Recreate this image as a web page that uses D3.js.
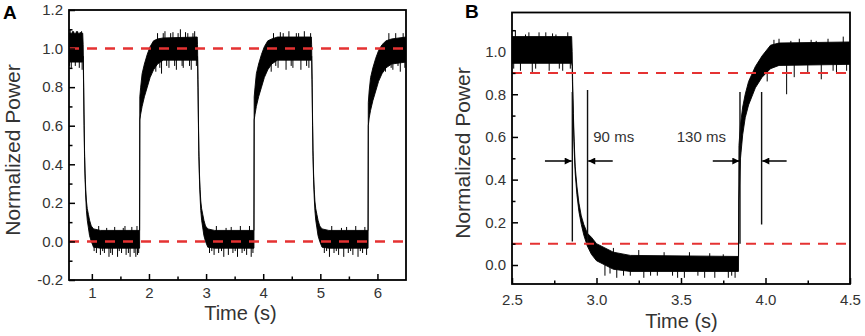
<!DOCTYPE html>
<html>
<head>
<meta charset="utf-8">
<script src="https://cdn.jsdelivr.net/npm/d3@7"></script>
<style>
body { margin: 0; background: #fff; }
svg { display: block; font-family: 'Liberation Sans', Arial, sans-serif; }
</style>
</head>
<body>
<div id="graph"></div>
<script>
// panel A trace: [time, low edge of noise band, high edge]
var bandA = [
  [0.600, 0.93, 1.08], [0.840, 0.93, 1.08], [0.848, 0.96, 1.02],
  [0.856, 0.80, 0.84], [0.864, 0.60, 0.64], [0.872, 0.44, 0.47], [0.882, 0.32, 0.35],
  [0.893, 0.23, 0.27], [0.905, 0.16, 0.21], [0.920, 0.11, 0.17], [0.940, 0.07, 0.14],
  [0.960, 0.03, 0.11], [0.990, 0.00, 0.08], [1.030, -0.03, 0.065], [1.150, -0.035, 0.057],
  [1.836, -0.035, 0.057],
  [1.840, 0.63, 0.75], [1.855, 0.66, 0.80], [1.880, 0.70, 0.87], [1.920, 0.75, 0.92],
  [1.970, 0.80, 0.97], [2.020, 0.85, 1.01], [2.080, 0.89, 1.04], [2.150, 0.92, 1.05],
  [2.250, 0.94, 1.055], [2.845, 0.94, 1.06],
  [2.850, 0.96, 1.02], [2.858, 0.80, 0.84], [2.866, 0.60, 0.64], [2.874, 0.44, 0.47],
  [2.884, 0.32, 0.35], [2.895, 0.23, 0.27], [2.907, 0.16, 0.21], [2.922, 0.11, 0.17],
  [2.942, 0.07, 0.14], [2.962, 0.03, 0.11], [2.990, 0.00, 0.08], [3.030, -0.03, 0.065],
  [3.150, -0.035, 0.057], [3.838, -0.035, 0.057],
  [3.842, 0.63, 0.75], [3.857, 0.66, 0.80], [3.880, 0.70, 0.87], [3.920, 0.75, 0.92],
  [3.970, 0.80, 0.97], [4.020, 0.85, 1.01], [4.080, 0.89, 1.04], [4.150, 0.92, 1.05],
  [4.250, 0.94, 1.06], [4.843, 0.94, 1.06],
  [4.848, 0.96, 1.02], [4.856, 0.80, 0.84], [4.864, 0.60, 0.64], [4.872, 0.44, 0.47],
  [4.882, 0.32, 0.35], [4.893, 0.23, 0.27], [4.905, 0.16, 0.21], [4.920, 0.11, 0.17],
  [4.940, 0.07, 0.14], [4.960, 0.03, 0.11], [4.990, 0.00, 0.08], [5.030, -0.03, 0.065],
  [5.150, -0.035, 0.057], [5.836, -0.035, 0.057],
  [5.840, 0.60, 0.72], [5.855, 0.64, 0.78], [5.880, 0.68, 0.85], [5.920, 0.73, 0.90],
  [5.970, 0.78, 0.95], [6.020, 0.83, 0.99], [6.080, 0.87, 1.02], [6.150, 0.90, 1.04],
  [6.250, 0.92, 1.05], [6.500, 0.93, 1.06]
]
// [time, tip value] of the spikes sticking out of the noise band
var spikesA = [
  [0.61, 0.91], [0.62, 1.10], [0.64, 0.90], [0.66, 1.09], [0.68, 1.09], [0.71, 0.91], [0.73, 1.09],
  [0.75, 1.09], [0.78, 0.90], [0.80, 1.085], [0.82, 1.09], [0.83, 0.89],
  [1.04, -0.05], [1.08, -0.06], [1.12, 0.08], [1.15, -0.07], [1.19, -0.05], [1.22, -0.06], [1.26, 0.07],
  [1.30, -0.08], [1.33, -0.06], [1.36, -0.07], [1.40, 0.075], [1.45, -0.08], [1.48, -0.05], [1.52, -0.06],
  [1.55, 0.07], [1.58, 0.08], [1.60, -0.07], [1.64, -0.06], [1.67, -0.08], [1.70, 0.075], [1.74, -0.06],
  [1.77, -0.08], [1.79, 0.08], [1.80, -0.07], [1.82, -0.06],
  [2.12, 0.88], [2.15, 1.08], [2.19, 0.90], [2.22, 0.87], [2.25, 1.08], [2.28, 1.09], [2.31, 0.91],
  [2.35, 0.90], [2.38, 1.08], [2.42, 1.085], [2.45, 0.91], [2.48, 0.89], [2.51, 1.08], [2.55, 1.10],
  [2.58, 0.91], [2.60, 0.90], [2.64, 1.085], [2.68, 1.08], [2.71, 0.91], [2.74, 0.89], [2.77, 1.08],
  [2.80, 1.09], [2.83, 0.91],
  [3.06, -0.06], [3.10, -0.05], [3.14, -0.07], [3.18, 0.08], [3.22, -0.06], [3.27, -0.05], [3.31, -0.08],
  [3.35, 0.07], [3.39, -0.07], [3.44, 0.075], [3.47, -0.06], [3.51, -0.05], [3.55, -0.08], [3.60, 0.08],
  [3.63, -0.06], [3.67, -0.05], [3.71, -0.07], [3.76, 0.08], [3.79, -0.08], [3.82, -0.06],
  [4.14, 0.88], [4.18, 1.08], [4.22, 0.91], [4.26, 0.90], [4.30, 1.085], [4.35, 1.08], [4.40, 0.89],
  [4.45, 1.09], [4.49, 0.91], [4.52, 0.90], [4.58, 1.08], [4.62, 1.08], [4.66, 0.89], [4.72, 1.09],
  [4.76, 0.91], [4.80, 0.90], [4.83, 1.08],
  [5.07, -0.06], [5.11, -0.05], [5.16, -0.08], [5.20, 0.08], [5.24, -0.06], [5.28, -0.05], [5.32, -0.07],
  [5.37, 0.07], [5.41, -0.08], [5.46, 0.075], [5.49, -0.06], [5.53, -0.05], [5.57, -0.07], [5.62, 0.08],
  [5.66, -0.08], [5.70, -0.05], [5.74, -0.06], [5.78, 0.075], [5.81, -0.07],
  [6.14, 0.88], [6.20, 1.08], [6.24, 0.90], [6.27, 0.89], [6.32, 1.08], [6.36, 0.91], [6.40, 0.88],
  [6.45, 1.08], [6.48, 0.90]
]
var refLinesA = [0, 1]
var xTicksA = [1, 2, 3, 4, 5, 6]
var xMinorA = [1.5, 2.5, 3.5, 4.5, 5.5]
var yTicksA = [-0.2, 0, 0.2, 0.4, 0.6, 0.8, 1.0, 1.2]
var yMinorA = [-0.1, 0.1, 0.3, 0.5, 0.7, 0.9, 1.1]

// panel B trace (zoom on one period)
var bandB = [
  [2.500, 0.945, 1.07], [2.853, 0.945, 1.07], [2.856, 0.93, 1.00],
  [2.859, 0.80, 0.86], [2.863, 0.67, 0.71], [2.868, 0.54, 0.58], [2.874, 0.43, 0.46],
  [2.884, 0.33, 0.37], [2.896, 0.25, 0.29], [2.910, 0.19, 0.23], [2.925, 0.14, 0.19],
  [2.945, 0.09, 0.15], [2.970, 0.05, 0.13], [3.000, 0.02, 0.10], [3.050, 0.00, 0.08],
  [3.100, -0.02, 0.06], [3.200, -0.03, 0.045], [3.840, -0.03, 0.04],
  [3.843, 0.30, 0.56], [3.852, 0.50, 0.66], [3.865, 0.61, 0.74], [3.880, 0.69, 0.80],
  [3.900, 0.75, 0.86], [3.940, 0.83, 0.93], [3.980, 0.88, 0.98], [4.030, 0.92, 1.03],
  [4.080, 0.935, 1.04], [4.500, 0.94, 1.045]
]
var spikesB = [
  [2.51, 0.92], [2.52, 1.10], [2.55, 0.91], [2.58, 1.08], [2.60, 1.09], [2.62, 0.90], [2.64, 0.92],
  [2.66, 1.09], [2.70, 1.09], [2.72, 0.91], [2.74, 1.085], [2.76, 1.08], [2.78, 0.92], [2.80, 0.91],
  [2.83, 1.09], [2.845, 0.92],
  [3.05, -0.05], [3.08, -0.04], [3.10, 0.08], [3.12, -0.06], [3.16, -0.05], [3.20, -0.05], [3.25, 0.07],
  [3.28, -0.06], [3.32, -0.05], [3.36, -0.05], [3.40, 0.06], [3.45, -0.05], [3.48, -0.06], [3.52, -0.06],
  [3.55, 0.06], [3.60, -0.05], [3.64, -0.06], [3.67, 0.055], [3.70, -0.06], [3.75, 0.05], [3.78, -0.06],
  [3.80, -0.05], [3.82, -0.06],
  [4.01, 0.86], [4.05, 1.055], [4.08, 1.06], [4.125, 0.80], [4.15, 1.05], [4.17, 0.88], [4.20, 1.06],
  [4.25, 0.90], [4.27, 1.055], [4.30, 1.05], [4.33, 0.87], [4.37, 1.06], [4.40, 0.91], [4.42, 0.90],
  [4.46, 1.07], [4.48, 0.91]
]
var refLinesB = [0.1, 0.9]
var xTicksB = [2.5, 3.0, 3.5, 4.0, 4.5]
var xMinorB = [2.75, 3.25, 3.75, 4.25]
var yTicksB = [0, 0.2, 0.4, 0.6, 0.8, 1.0]
var yMinorB = [0.1, 0.3, 0.5, 0.7, 0.9, 1.1]
// [time, from, to] of the 10% / 90% marker lines
var edgeLinesB = [[2.857, 0.11, 0.81], [2.947, 0.10, 0.82], [3.849, 0.10, 0.81], [3.977, 0.19, 0.81]]
// [tail time, head time]
var arrowsB = [[2.695, 2.853], [3.096, 2.951], [3.688, 3.845], [4.125, 3.981]]
var arrowLevelB = 0.487
var labelsB = [{text: '90 ms', t: 2.981, v: 0.578}, {text: '130 ms', t: 3.475, v: 0.578}]

var fmt1 = d => d.toFixed(1)

var panels = [
  {letter: 'A', band: bandA, spikes: spikesA, refLines: refLinesA,
   xTicks: xTicksA, xMinor: xMinorA, yTicks: yTicksA, yMinor: yMinorA,
   xDomain: [0.6, 6.5], yDomain: [-0.2, 1.2], left: 69, right: 406, top: 10, bottom: 280,
   xFormat: d3.format('d'), xPad: 7, dashWidth: 2.4,
   letterPos: [3, 18.5], yTitlePos: [20, 150], xTitlePos: [240.5, 320]},
  {letter: 'B', band: bandB, spikes: spikesB, refLines: refLinesB,
   xTicks: xTicksB, xMinor: xMinorB, yTicks: yTicksB, yMinor: yMinorB,
   xDomain: [2.5, 4.5], yDomain: [-0.089, 1.183], left: 512, right: 850, top: 12.5, bottom: 284,
   xFormat: fmt1, xPad: 10, dashWidth: 2,
   letterPos: [465, 17.5], yTitlePos: [470, 153], xTitlePos: [681.5, 327.5],
   edgeLines: edgeLinesB, arrows: arrowsB, arrowLevel: arrowLevelB, labels: labelsB}
]

var svg = d3.select('#graph').append('svg')
  .attr('width', 865).attr('height', 336)

svg.append('defs').append('marker')
  .attr('id', 'head')
  .attr('viewBox', '0 0 10 10').attr('refX', 10).attr('refY', 5)
  .attr('markerWidth', 9).attr('markerHeight', 7).attr('markerUnits', 'userSpaceOnUse')
  .attr('orient', 'auto')
  .append('path').attr('d', 'M0,0 L10,5 L0,10 Z').attr('fill', '#000')

panels.forEach(function(p) {
  var x = d3.scaleLinear().domain(p.xDomain).range([p.left, p.right])
  var y = d3.scaleLinear().domain(p.yDomain).range([p.bottom, p.top])
  var g = svg.append('g')

  g.append('clipPath').attr('id', 'clip' + p.letter)
    .append('rect')
    .attr('x', p.left).attr('y', p.top)
    .attr('width', p.right - p.left).attr('height', p.bottom - p.top)

  var plot = g.append('g').attr('clip-path', 'url(#clip' + p.letter + ')')

  plot.append('path').datum(p.band)
    .attr('d', d3.area().x(d => x(d[0])).y0(d => y(d[1])).y1(d => y(d[2])))
    .attr('fill', '#000').attr('stroke', '#000').attr('stroke-width', 0.9)

  plot.selectAll('line.spike').data(p.spikes).enter().append('line')
    .attr('class', 'spike')
    .attr('x1', d => x(d[0])).attr('x2', d => x(d[0]))
    .attr('y1', d => y(d[1] > 0.5 ? 1 : 0)).attr('y2', d => y(d[1]))
    .attr('stroke', '#000').attr('stroke-width', 1)

  if (p.edgeLines) {
    plot.selectAll('line.edge').data(p.edgeLines).enter().append('line')
      .attr('class', 'edge')
      .attr('x1', d => x(d[0])).attr('x2', d => x(d[0]))
      .attr('y1', d => y(d[1])).attr('y2', d => y(d[2]))
      .attr('stroke', '#111').attr('stroke-width', 1.4)

    plot.selectAll('line.arrow').data(p.arrows).enter().append('line')
      .attr('class', 'arrow')
      .attr('x1', d => x(d[0])).attr('x2', d => x(d[1]))
      .attr('y1', y(p.arrowLevel)).attr('y2', y(p.arrowLevel))
      .attr('stroke', '#000').attr('stroke-width', 1.4)
      .attr('marker-end', 'url(#head)')

    g.selectAll('text.note').data(p.labels).enter().append('text')
      .attr('class', 'note')
      .attr('x', d => x(d.t)).attr('y', d => y(d.v))
      .attr('font-size', 15).attr('fill', '#333')
      .text(d => d.text)
  }

  plot.selectAll('line.ref').data(p.refLines).enter().append('line')
    .attr('class', 'ref')
    .attr('x1', p.left).attr('x2', p.right)
    .attr('y1', d => y(d)).attr('y2', d => y(d))
    .attr('stroke', '#e53232').attr('stroke-width', p.dashWidth)
    .attr('stroke-dasharray', '10,8')

  var axes = g.append('g')
  axes.append('g').attr('transform', 'translate(0,' + p.bottom + ')')
    .call(d3.axisBottom(x).tickValues(p.xTicks).tickSize(-6).tickPadding(p.xPad).tickFormat(p.xFormat))
  axes.append('g').attr('transform', 'translate(0,' + p.bottom + ')')
    .call(d3.axisBottom(x).tickValues(p.xMinor).tickSize(-3.5).tickFormat(''))
  axes.append('g').attr('transform', 'translate(' + p.left + ',0)')
    .call(d3.axisLeft(y).tickValues(p.yTicks).tickSize(-6).tickPadding(6).tickFormat(fmt1))
  axes.append('g').attr('transform', 'translate(' + p.left + ',0)')
    .call(d3.axisLeft(y).tickValues(p.yMinor).tickSize(-3.5).tickFormat(''))

  axes.selectAll('.domain').remove()
  axes.selectAll('.tick line').attr('stroke', '#000').attr('stroke-width', 1.5)
  axes.selectAll('.tick text')
    .attr('font-size', 15).attr('fill', '#333')
    .attr('font-family', "'Liberation Sans', Arial, sans-serif")

  g.append('rect')
    .attr('x', p.left).attr('y', p.top)
    .attr('width', p.right - p.left).attr('height', p.bottom - p.top)
    .attr('fill', 'none').attr('stroke', '#000').attr('stroke-width', 1.8)

  g.append('text')
    .attr('x', p.letterPos[0]).attr('y', p.letterPos[1])
    .attr('font-size', 19).attr('font-weight', 'bold').attr('fill', '#000')
    .text(p.letter)

  g.append('text')
    .attr('transform', 'translate(' + p.yTitlePos + ') rotate(-90)')
    .attr('text-anchor', 'middle')
    .attr('font-size', 21).attr('fill', '#333')
    .text('Normalized Power')

  g.append('text')
    .attr('x', p.xTitlePos[0]).attr('y', p.xTitlePos[1])
    .attr('text-anchor', 'middle')
    .attr('font-size', 20).attr('fill', '#333')
    .text('Time (s)')
})
</script>
</body>
</html>
